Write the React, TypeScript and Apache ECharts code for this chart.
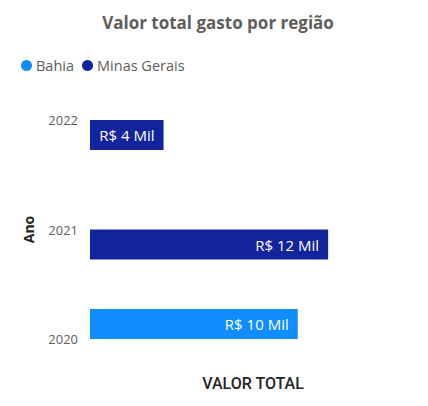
import React, { useEffect, useRef } from "react";
import * as echarts from "echarts";

const categories = ["2020", "2021", "2022"];
const bahia: (number | null)[] = [10450, null, null];
const minasGerais: (number | null)[] = [null, 11980, 3700];
const seriesNames = ["Bahia", "Minas Gerais"];

const fmt = (v: number) => `R$ ${Math.round(v / 1000)} Mil`;

export default function App() {
  const ref = useRef<HTMLDivElement>(null);
  useEffect(() => {
    if (!ref.current) return;
    const chart = echarts.init(ref.current, undefined, { renderer: "svg" });
    const font = "'Segoe UI', 'Open Sans', sans-serif";
    const label = {
      show: true,
      position: "insideRight",
      distance: 9,
      color: "#ffffff",
      fontSize: 15,
      fontFamily: font,
      formatter: (p: any) => fmt(p.value),
    };
    chart.setOption({
      animation: false,
      title: {
        text: "Valor total gasto por região",
        left: 213,
        textAlign: "center",
        top: 9,
        textStyle: { color: "#605E5C", fontSize: 17, fontWeight: "bold", fontFamily: font },
      },
      legend: {
        left: 16,
        top: 53,
        icon: "circle",
        itemWidth: 11,
        itemHeight: 11,
        itemGap: 8,
        textStyle: { color: "#605E5C", fontSize: 14.5, fontFamily: font, padding: [0, 0, 0, -1] },
        data: seriesNames,
      },
      grid: { left: 90, right: 12, top: 120, bottom: 67, containLabel: false },
      xAxis: {
        type: "value",
        min: 0,
        max: 16400,
        axisLabel: { show: false },
        splitLine: { show: false },
        axisLine: { show: false },
        axisTick: { show: false },
        name: "VALOR TOTAL",
        nameLocation: "middle",
        nameGap: 36,
        nameTextStyle: { color: "#252423", fontSize: 16, fontWeight: 500, fontFamily: "Roboto, sans-serif" },
      },
      yAxis: {
        type: "category",
        data: categories,
        boundaryGap: false,
        axisLine: { show: false },
        axisTick: { show: false },
        axisLabel: { color: "#605E5C", fontSize: 13, fontFamily: font, margin: 12 },
        name: "Ano",
        nameLocation: "middle",
        nameGap: 55,
        nameRotate: 90,
        nameTextStyle: { color: "#252423", fontSize: 14, fontWeight: "bold", fontFamily: font },
      },
      series: [
        {
          name: seriesNames[0],
          type: "bar",
          data: bahia,
          barWidth: 30,
          barGap: "0%",
          clip: false,
          itemStyle: { color: "#118DFF" },
          label,
        },
        {
          name: seriesNames[1],
          type: "bar",
          data: minasGerais,
          barWidth: 30,
          barGap: "0%",
          clip: false,
          itemStyle: { color: "#12239E" },
          label,
        },
      ],
    });
    return () => chart.dispose();
  }, []);
  return <div ref={ref} style={{ width: 428, height: 406, margin: -8 }} />;
}
